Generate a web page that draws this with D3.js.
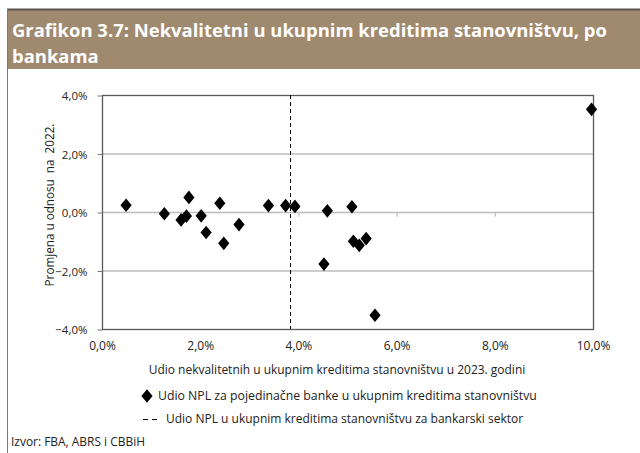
<!DOCTYPE html>
<html>
<head>
<meta charset="utf-8">
<script src="https://cdn.jsdelivr.net/npm/d3@7"></script>
<style>
  body { margin: 0; background: #fff; }
  text { font-family: "Open Sans", "Noto Sans", sans-serif; fill: #222; }
</style>
</head>
<body>
<script>
// Data (both axes in percent)
var titleLines = ["Grafikon 3.7: Nekvalitetni u ukupnim kreditima stanovništvu, po", "bankama"];
var npl2023 = [0.49, 1.27, 1.61, 1.72, 1.77, 2.02, 2.12, 2.40, 2.48, 2.79, 3.39, 3.74, 3.93,
               4.59, 5.09, 4.52, 5.12, 5.24, 5.38, 5.56, 9.97];
var change = [0.23, -0.06, -0.27, -0.14, 0.50, -0.13, -0.70, 0.30, -1.07, -0.43, 0.22, 0.22, 0.19,
              0.04, 0.18, -1.78, -1.00, -1.14, -0.91, -3.53, 3.51];
var sectorNpl = 3.84;
var xTicks = [0, 2, 4, 6, 8, 10];
var yTicks = [-4, -2, 0, 2, 4];
var xTitle = "Udio nekvalitetnih u ukupnim kreditima stanovništvu u 2023. godini";
var yTitle = "Promjena u odnosu  na  2022.";
var legendLabels = ["Udio NPL za pojedinačne banke u ukupnim kreditima stanovništvu",
                    "Udio NPL u ukupnim kreditima stanovništvu za bankarski sektor"];
var source = "Izvor: FBA, ABRS i CBBiH";

var W = 640, H = 453;
var svg = d3.select("body").append("svg").attr("width", W).attr("height", H);

// scale font size so a text hits a given width
function fit(sel, width) {
  var fs = parseFloat(sel.attr("font-size"));
  var w = sel.node().getComputedTextLength();
  sel.attr("font-size", (fs * width / w).toFixed(2));
  return sel;
}

// header box
svg.append("rect").attr("x", 7).attr("y", 10).attr("width", W - 7).attr("height", 59).attr("fill", "#a08a6f");
svg.append("line").attr("x1", 7).attr("x2", W).attr("y1", 9.5).attr("y2", 9.5).attr("stroke", "#5b5550").attr("stroke-width", 2);
svg.append("line").attr("x1", 7.5).attr("x2", 7.5).attr("y1", 9).attr("y2", H).attr("stroke", "#7a7a7a").attr("stroke-width", 1);

var t1 = svg.append("text").attr("x", 12).attr("y", 37).attr("font-size", 16).attr("font-weight", 700)
  .style("fill", "#fff").text(titleLines[0]);
fit(t1, 595);
svg.append("text").attr("x", 12).attr("y", 63).attr("font-size", t1.attr("font-size")).attr("font-weight", 700)
  .style("fill", "#fff").text(titleLines[1]);

// plot
var margin = {left: 102, right: 47, top: 95, bottom: 124};
var x = d3.scaleLinear().domain([0, 10]).range([margin.left, W - margin.right]);
var y = d3.scaleLinear().domain([-4, 4]).range([H - margin.bottom, margin.top]);

var loc = d3.formatLocale({decimal: ",", thousands: ".", grouping: [3], currency: ["", ""]});
var pct = function(d) { return loc.format(".1f")(d) + "%"; };

// gridlines
svg.append("g").selectAll("line").data(yTicks.filter(function(d) { return d > -4 && d < 4; }))
  .join("line")
  .attr("x1", x(0)).attr("x2", x(10))
  .attr("y1", function(d) { return y(d) + 0.5; }).attr("y2", function(d) { return y(d) + 0.5; })
  .attr("stroke", "#bdbdbd").attr("stroke-width", 1.3);

// x ticks hang off the zero line
svg.append("g").attr("transform", "translate(0," + (y(0) + 0.5) + ")")
  .call(d3.axisBottom(x).tickValues(xTicks.slice(1, 5)).tickSize(4).tickFormat(""))
  .call(function(g) { g.select(".domain").remove(); g.selectAll("line").attr("stroke", "#bdbdbd").attr("stroke-width", 1.3); });

// frame
svg.append("rect").attr("x", x(0) + 0.5).attr("y", y(4) + 0.5)
  .attr("width", x(10) - x(0)).attr("height", y(-4) - y(4))
  .attr("fill", "none").attr("stroke", "#595959").attr("stroke-width", 1.3);

// y axis
var yAxis = svg.append("g").attr("transform", "translate(" + (x(0) + 0.5) + ",0.5)")
  .call(d3.axisLeft(y).tickValues(yTicks).tickSize(5).tickPadding(10).tickFormat(pct));
yAxis.select(".domain").remove();
yAxis.selectAll("line").attr("stroke", "#777");
yAxis.selectAll("text").attr("font-size", 11.5).style("font-family", "'Open Sans', sans-serif").attr("fill", "#222").attr("dy", "0.35em");

// x labels at bottom
var xAxis = svg.append("g").attr("transform", "translate(0," + (y(-4) + 9) + ")")
  .call(d3.axisBottom(x).tickValues(xTicks).tickSize(0).tickFormat(pct));
xAxis.select(".domain").remove();
xAxis.selectAll("text").attr("font-size", 12).style("font-family", "'Open Sans', sans-serif").attr("fill", "#222");

// axis titles
var xt = svg.append("text").attr("x", 337).attr("y", 374).attr("text-anchor", "middle").attr("font-size", 12).text(xTitle);
fit(xt, 377);
var yt = svg.append("text").attr("transform", "translate(54," + 205 + ") rotate(-90)")
  .attr("text-anchor", "middle").attr("font-size", 12).style("white-space", "pre").text(yTitle);
fit(yt, 163);

// sector line
svg.append("line").attr("x1", x(sectorNpl)).attr("x2", x(sectorNpl))
  .attr("y1", y(4)).attr("y2", y(-4))
  .attr("stroke", "#000").attr("stroke-width", 1).attr("stroke-dasharray", "4,3");

// diamond symbol, a bit wider than d3's own
var diamond = {
  draw: function(ctx, size) {
    var h = Math.sqrt(size) * 0.72, w = h * 0.82;
    ctx.moveTo(0, -h); ctx.lineTo(w, 0); ctx.lineTo(0, h); ctx.lineTo(-w, 0); ctx.closePath();
  }
};
var sym = d3.symbol().type(diamond).size(90);

svg.append("g").selectAll("path").data(npl2023)
  .join("path")
  .attr("transform", function(d, i) { return "translate(" + x(d) + "," + y(change[i]) + ")"; })
  .attr("d", sym).attr("fill", "#000");

// legend
var lg = svg.append("g");
lg.append("path").attr("transform", "translate(147,396)").attr("d", sym).attr("fill", "#000");
var l1 = lg.append("text").attr("x", 158).attr("y", 400).attr("font-size", 11.5).text(legendLabels[0]);
fit(l1, 379);
lg.append("line").attr("x1", 143).attr("x2", 157).attr("y1", 419.5).attr("y2", 419.5)
  .attr("stroke", "#000").attr("stroke-dasharray", "5,4");
var l2 = lg.append("text").attr("x", 166).attr("y", 423).attr("font-size", 11.5).text(legendLabels[1]);
fit(l2, 357);

var src = svg.append("text").attr("x", 11).attr("y", 446).attr("font-size", 10).text(source);
fit(src, 134);
</script>
</body>
</html>
